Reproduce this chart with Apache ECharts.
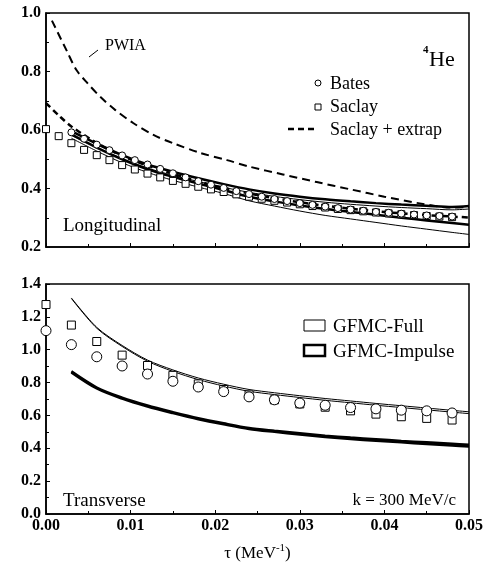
<!DOCTYPE html>
<html>
<head>
<meta charset="utf-8">
<script src="https://cdn.jsdelivr.net/npm/echarts@6/dist/echarts.min.js"></script>
<style>
  html, body { margin: 0; padding: 0; background: #fff; }
  #chart { width: 489px; height: 563px; }
</style>
</head>
<body>
<div id="chart"></div>
<script>
// tau values (MeV^-1)
var tauData = [0, 0.0015, 0.003, 0.0045, 0.006, 0.0075, 0.009, 0.0105, 0.012, 0.0135, 0.015, 0.0165,
  0.018, 0.0195, 0.021, 0.0225, 0.024, 0.0255, 0.027, 0.0285, 0.030, 0.0315, 0.033, 0.0345,
  0.036, 0.0375, 0.039, 0.0405, 0.042, 0.0435, 0.045, 0.0465, 0.048];
var tauTheory = [0.003, 0.006, 0.009, 0.012, 0.015, 0.018, 0.021, 0.024, 0.027, 0.030,
  0.033, 0.036, 0.039, 0.042, 0.045, 0.048, 0.050];
var tauExtrap = [0, 0.0015, 0.003, 0.006, 0.009, 0.012, 0.015, 0.018, 0.021, 0.024, 0.027,
  0.030, 0.033, 0.036, 0.039, 0.042, 0.045, 0.048, 0.050];
var tauPwia = [0.0007, 0.0025, 0.0036, 0.0049, 0.0064, 0.0082, 0.0103, 0.0127, 0.015, 0.0182,
  0.0214, 0.024, 0.028, 0.032, 0.036, 0.040, 0.044, 0.048, 0.050];
var tauT = [0, 0.003, 0.006, 0.009, 0.012, 0.015, 0.018, 0.021, 0.024, 0.027, 0.030,
  0.033, 0.036, 0.039, 0.042, 0.045, 0.048];

// longitudinal
var saclayL = [0.603, 0.579, 0.555, 0.532, 0.514, 0.497, 0.480, 0.465, 0.451, 0.438, 0.426, 0.416,
  0.406, 0.397, 0.388, 0.380, 0.372, 0.365, 0.358, 0.352, 0.346, 0.340, 0.335, 0.330,
  0.326, 0.322, 0.318, 0.315, 0.312, 0.309, 0.306, 0.304, 0.302];
var batesL = [null, null, 0.592, 0.570, 0.550, 0.531, 0.513, 0.497, 0.482, 0.467, 0.452, 0.438,
  0.425, 0.413, 0.402, 0.391, 0.381, 0.372, 0.364, 0.357, 0.350, 0.344, 0.338, 0.333,
  0.328, 0.324, 0.320, 0.317, 0.314, 0.311, 0.308, 0.306, 0.304];
var extrapL = [0.692, 0.650, 0.612, 0.556, 0.512, 0.478, 0.450, 0.424, 0.402, 0.383, 0.367,
  0.353, 0.341, 0.331, 0.322, 0.315, 0.309, 0.304, 0.301];
var pwiaL = [0.974, 0.868, 0.805, 0.760, 0.714, 0.668, 0.624, 0.583, 0.555, 0.522,
  0.497, 0.475, 0.448, 0.422, 0.397, 0.372, 0.350, 0.335, 0.337];
var impUpperL = [0.596, 0.553, 0.514, 0.482, 0.457, 0.435, 0.415, 0.397, 0.383, 0.372,
  0.363, 0.356, 0.350, 0.345, 0.341, 0.337, 0.340];
var impLowerL = [0.585, 0.540, 0.500, 0.466, 0.440, 0.417, 0.395, 0.372, 0.356, 0.342,
  0.330, 0.320, 0.310, 0.300, 0.291, 0.282, 0.276];
var fullUpperL = [0.582, 0.540, 0.502, 0.470, 0.445, 0.424, 0.404, 0.387, 0.373, 0.362,
  0.353, 0.346, 0.340, 0.335, 0.331, 0.327, 0.330];
var fullLowerL = [0.572, 0.528, 0.488, 0.455, 0.428, 0.405, 0.383, 0.358, 0.340, 0.323,
  0.308, 0.296, 0.284, 0.272, 0.261, 0.250, 0.243];

// transverse
var saclayT = [1.275, 1.150, 1.050, 0.967, 0.904, 0.844, 0.792, 0.758, 0.725, 0.695, 0.670,
  0.650, 0.628, 0.608, 0.592, 0.582, 0.572];
var batesT = [1.116, 1.031, 0.957, 0.901, 0.852, 0.808, 0.773, 0.745, 0.713, 0.695, 0.675,
  0.662, 0.648, 0.640, 0.632, 0.628, 0.615];
var fullUpperT = [1.315, 1.136, 1.026, 0.937, 0.877, 0.828, 0.790, 0.758, 0.738, 0.720,
  0.703, 0.688, 0.673, 0.659, 0.645, 0.631, 0.622];
var fullLowerT = [1.312, 1.131, 1.020, 0.930, 0.868, 0.818, 0.779, 0.747, 0.727, 0.709,
  0.692, 0.677, 0.662, 0.648, 0.634, 0.620, 0.611];
var impUpperT = [0.868, 0.770, 0.708, 0.660, 0.620, 0.583, 0.552, 0.524, 0.507, 0.492,
  0.477, 0.465, 0.455, 0.445, 0.436, 0.427, 0.421];
var impLowerT = [0.862, 0.764, 0.702, 0.654, 0.614, 0.577, 0.546, 0.518, 0.500, 0.484,
  0.469, 0.456, 0.446, 0.436, 0.426, 0.417, 0.411];

var yTicksL = [0.2, 0.4, 0.6, 0.8, 1.0];
var yTicksT = [0.0, 0.2, 0.4, 0.6, 0.8, 1.0, 1.2, 1.4];

function pairs(xs, ys) {
  var out = [];
  for (var i = 0; i < xs.length; i++) {
    if (ys[i] != null) out.push([xs[i], ys[i]]);
  }
  return out;
}

var SERIF = '"Liberation Serif", "DejaVu Serif", serif';

function curve(name, xi, yi, xs, ys, width, dash, z) {
  return {
    name: name, type: 'line', xAxisIndex: xi, yAxisIndex: yi,
    data: pairs(xs, ys), showSymbol: false, smooth: 0.3, silent: true,
    lineStyle: { color: '#000', width: width, type: dash || 'solid' },
    z: z || 2
  };
}
function points(name, xi, yi, xs, ys, symbol, size, z) {
  return {
    name: name, type: 'scatter', xAxisIndex: xi, yAxisIndex: yi,
    data: pairs(xs, ys), symbol: symbol, symbolSize: size, silent: true,
    itemStyle: { color: '#fff', borderColor: '#000', borderWidth: 1, opacity: 1 },
    z: z || 4
  };
}

var myChart = echarts.init(document.getElementById('chart'), null, { renderer: 'canvas' });

var xBase = {
  type: 'value', min: 0, max: 0.05, interval: 0.01,
  axisLine: { show: true, lineStyle: { color: '#000', width: 1.5 } },
  axisTick: { show: true, inside: true, length: 4, lineStyle: { color: '#000' } },
  minorTick: { show: true, splitNumber: 2, length: 3, lineStyle: { color: '#000' } },
  splitLine: { show: false }
};
var yBase = {
  type: 'value',
  axisLine: { show: true, lineStyle: { color: '#000', width: 1.5 } },
  axisTick: { show: true, inside: true, length: 4, lineStyle: { color: '#000' } },
  minorTick: { show: true, splitNumber: 2, length: 3, lineStyle: { color: '#000' } },
  splitLine: { show: false },
  axisLabel: {
    color: '#000', fontFamily: SERIF, fontWeight: 'bold', fontSize: 16, margin: 5,
    formatter: function (v) { return v.toFixed(1); }
  }
};

myChart.setOption({
  backgroundColor: '#fff',
  animation: false,
  grid: [
    { left: 46, top: 13, width: 423, height: 234, show: true, borderColor: '#000', borderWidth: 1.5 },
    { left: 46, top: 284, width: 423, height: 235, show: true, borderColor: '#000', borderWidth: 1.5 }
  ],
  xAxis: [
    Object.assign({}, xBase, { gridIndex: 0, axisLabel: { show: false } }),
    Object.assign({}, xBase, {
      gridIndex: 1,
      axisLabel: {
        color: '#000', fontFamily: SERIF, fontWeight: 'bold', fontSize: 16, margin: 4,
        formatter: function (v) { return v.toFixed(2); }
      },
      name: '{a|τ (MeV}{sup|-1}{a|)}',
      nameLocation: 'middle', nameGap: 29,
      nameTextStyle: {
        rich: {
          a: { fontFamily: SERIF, fontSize: 17, color: '#000' },
          sup: { fontFamily: SERIF, fontSize: 11, color: '#000', padding: [0, 0, 10, 0] }
        }
      }
    })
  ],
  yAxis: [
    Object.assign({}, yBase, { gridIndex: 0, min: yTicksL[0], max: yTicksL[yTicksL.length - 1], interval: 0.2 }),
    Object.assign({}, yBase, { gridIndex: 1, min: yTicksT[0], max: yTicksT[yTicksT.length - 1], interval: 0.2 })
  ],
  series: [
    // longitudinal
    curve('PWIA', 0, 0, tauPwia, pwiaL, 2, [8, 5], 2),
    curve('GFMC-Full lower', 0, 0, tauTheory, fullLowerL, 1, 'solid', 2),
    curve('GFMC-Impulse lower', 0, 0, tauTheory, impLowerL, 2.5, 'solid', 2),
    curve('GFMC-Full upper', 0, 0, tauTheory, fullUpperL, 1, 'solid', 2),
    curve('GFMC-Impulse upper', 0, 0, tauTheory, impUpperL, 2.5, 'solid', 2),
    curve('Saclay + extrap', 0, 0, tauExtrap, extrapL, 2.5, [6, 4], 3),
    points('Saclay', 0, 0, tauData, saclayL, 'rect', 7, 4),
    points('Bates', 0, 0, tauData, batesL, 'circle', 7, 5),
    // transverse
    curve('GFMC-Impulse lower T', 1, 1, tauTheory, impLowerT, 2.5, 'solid', 2),
    curve('GFMC-Impulse upper T', 1, 1, tauTheory, impUpperT, 2.5, 'solid', 2),
    curve('GFMC-Full lower T', 1, 1, tauTheory, fullLowerT, 1, 'solid', 2),
    curve('GFMC-Full upper T', 1, 1, tauTheory, fullUpperT, 1, 'solid', 2),
    points('Saclay T', 1, 1, tauT, saclayT, 'rect', 8, 4),
    points('Bates T', 1, 1, tauT, batesT, 'circle', 10, 5)
  ],
  graphic: [
    { type: 'text', style: { text: 'PWIA', x: 105, y: 46, font: '16px ' + SERIF, fill: '#000', textVerticalAlign: 'middle' } },
    { type: 'line', shape: { x1: 89, y1: 57, x2: 98, y2: 50 }, style: { stroke: '#000', lineWidth: 1 } },
    { type: 'text', style: { text: '4', x: 423, y: 50, font: 'bold 11px ' + SERIF, fill: '#000', textVerticalAlign: 'middle' } },
    { type: 'text', style: { text: 'He', x: 429, y: 60, font: '22px ' + SERIF, fill: '#000', textVerticalAlign: 'middle' } },
    { type: 'circle', shape: { cx: 318, cy: 83, r: 3 }, style: { fill: '#fff', stroke: '#000', lineWidth: 1 } },
    { type: 'text', style: { text: 'Bates', x: 330, y: 84, font: '18px ' + SERIF, fill: '#000', textVerticalAlign: 'middle' } },
    { type: 'rect', shape: { x: 315, y: 104, width: 6, height: 6 }, style: { fill: '#fff', stroke: '#000', lineWidth: 1 } },
    { type: 'text', style: { text: 'Saclay', x: 330, y: 107, font: '18px ' + SERIF, fill: '#000', textVerticalAlign: 'middle' } },
    { type: 'line', shape: { x1: 288, y1: 129, x2: 318, y2: 129 }, style: { stroke: '#000', lineWidth: 2.5, lineDash: [6, 4] } },
    { type: 'text', style: { text: 'Saclay + extrap', x: 330, y: 130, font: '18px ' + SERIF, fill: '#000', textVerticalAlign: 'middle' } },
    { type: 'text', style: { text: 'Longitudinal', x: 63, y: 226, font: '19px ' + SERIF, fill: '#000', textVerticalAlign: 'middle' } },
    { type: 'rect', shape: { x: 304, y: 320, width: 21, height: 11 }, style: { fill: '#fff', stroke: '#000', lineWidth: 1 } },
    { type: 'text', style: { text: 'GFMC-Full', x: 333, y: 327, font: '19px ' + SERIF, fill: '#000', textVerticalAlign: 'middle' } },
    { type: 'rect', shape: { x: 304, y: 345, width: 21, height: 11 }, style: { fill: '#fff', stroke: '#000', lineWidth: 2.5 } },
    { type: 'text', style: { text: 'GFMC-Impulse', x: 333, y: 352, font: '19px ' + SERIF, fill: '#000', textVerticalAlign: 'middle' } },
    { type: 'text', style: { text: 'Transverse', x: 63, y: 501, font: '19px ' + SERIF, fill: '#000', textVerticalAlign: 'middle' } },
    { type: 'text', style: { text: 'k = 300 MeV/c', x: 456, y: 501, font: '17px ' + SERIF, fill: '#000', textAlign: 'right', textVerticalAlign: 'middle' } }
  ]
});

window.addEventListener('resize', function () { myChart.resize(); });
</script>
</body>
</html>
